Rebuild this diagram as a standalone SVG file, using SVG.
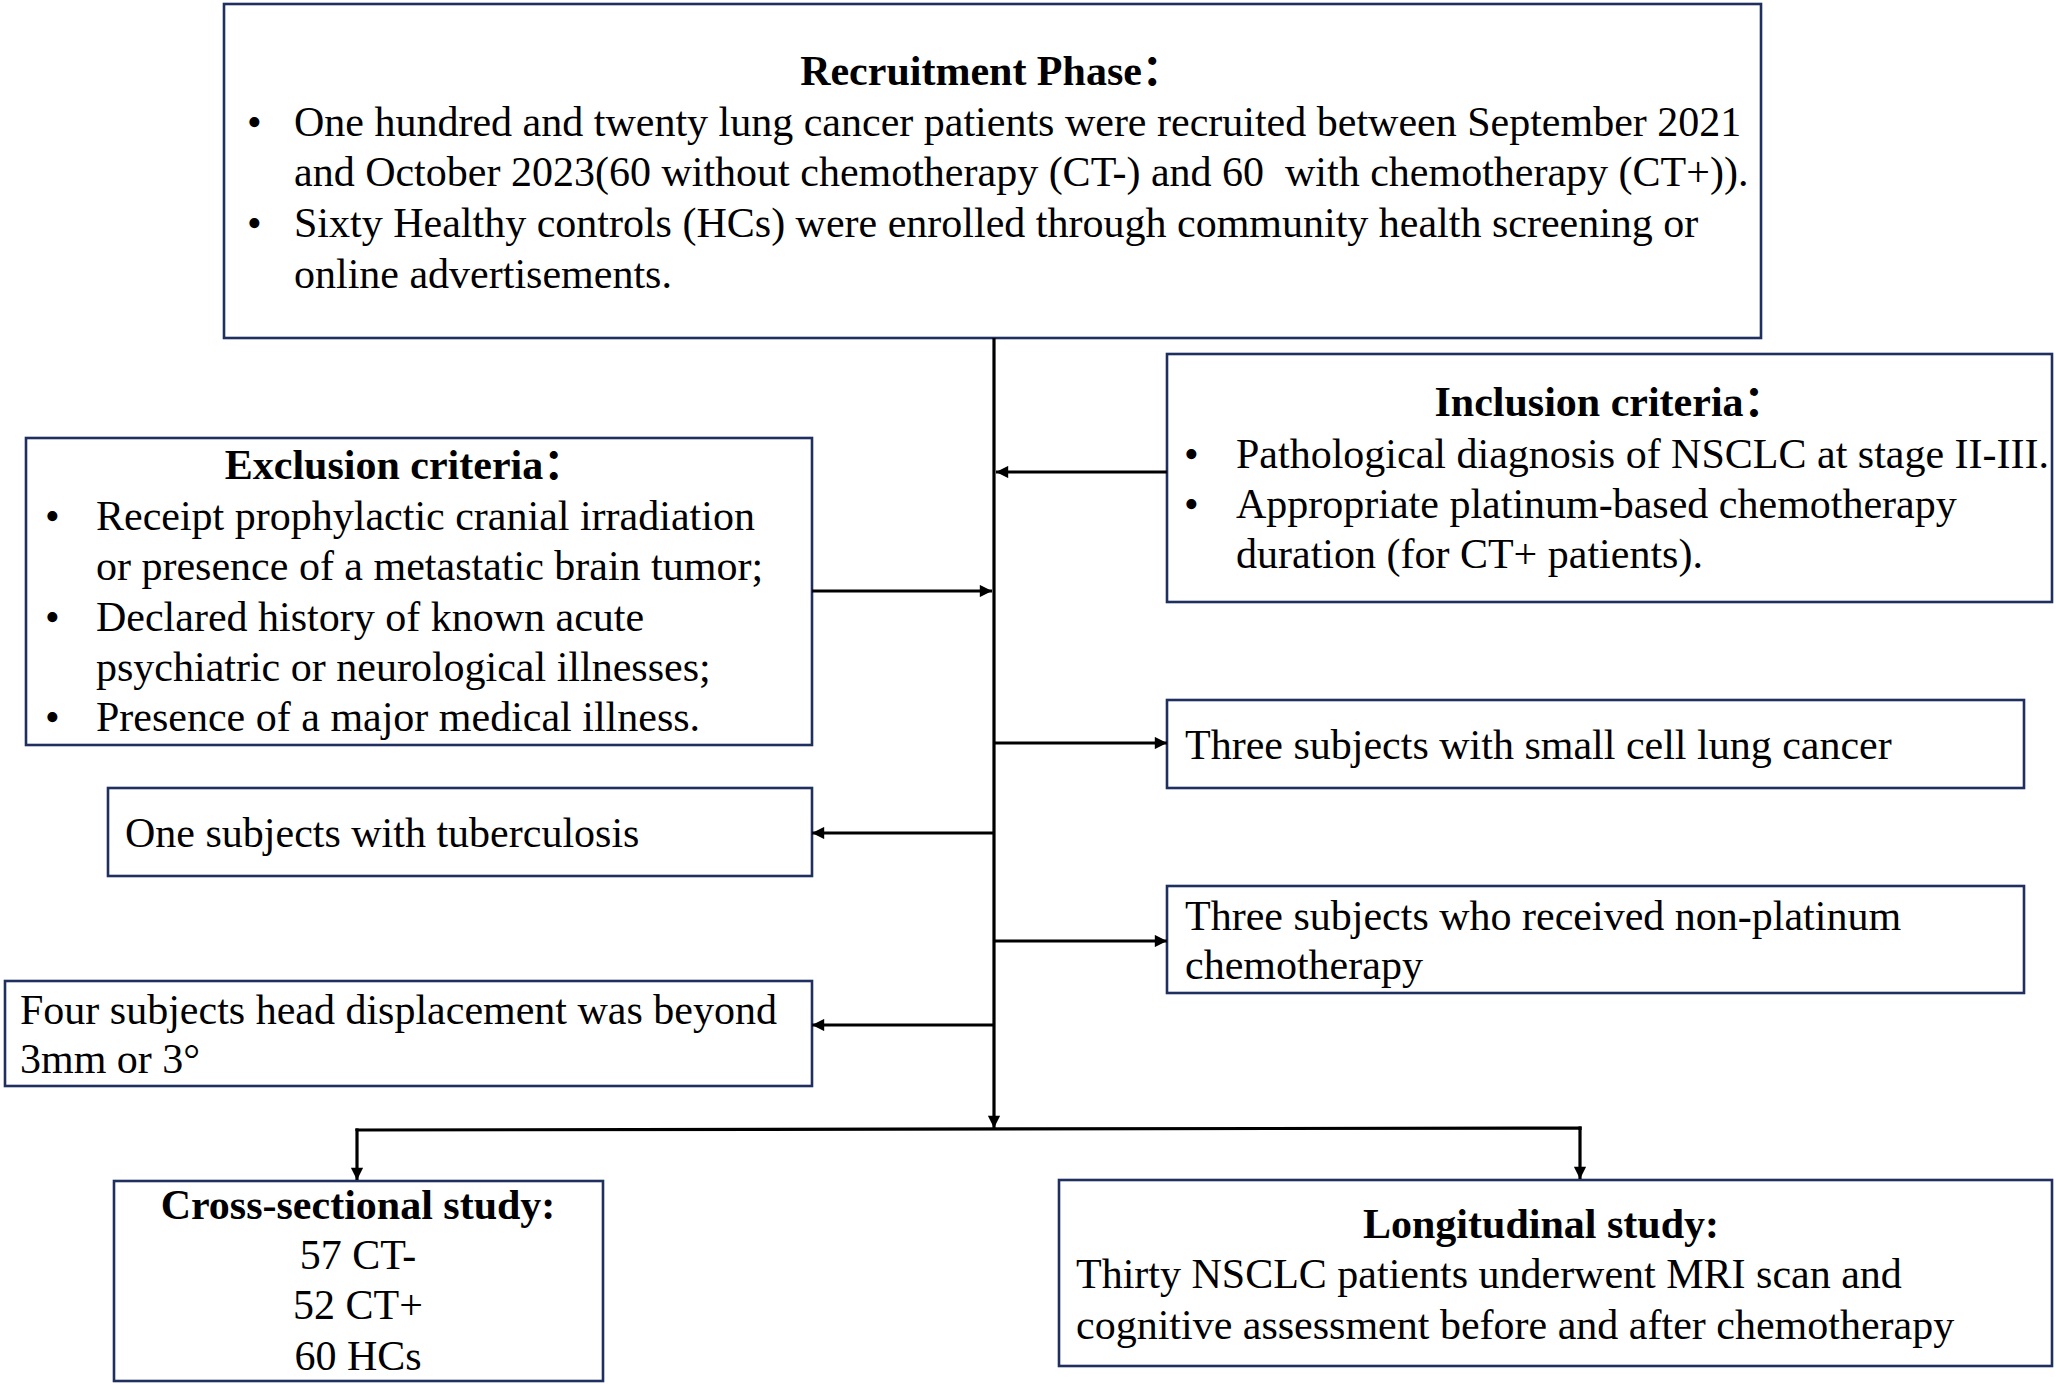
<svg xmlns="http://www.w3.org/2000/svg" width="2056" height="1384" viewBox="0 0 2056 1384">
<defs>
<style>
.box{fill:#fff;stroke:#1f2f5f;stroke-width:2.6}
text{font-family:"Liberation Serif","Noto Sans CJK SC",serif;font-size:42px;fill:#000}
.t{font-weight:bold;text-anchor:middle}
.c{text-anchor:middle}
.ln{fill:none;stroke:#000;stroke-width:3.2}
</style>
<marker id="ah" viewBox="0 0 10 10" refX="10" refY="5" markerWidth="4.4" markerHeight="3.8" markerUnits="strokeWidth" orient="auto">
<path d="M0,0 L10,5 L0,10 z" fill="#000"/>
</marker>
</defs>
<rect width="2056" height="1384" fill="#fff"/>
<g id="recruitment">
<rect class="box" x="224" y="4" width="1537" height="334"/>
<text class="t" x="992" y="85">Recruitment Phase：</text>
<text x="247" y="136">•</text>
<text x="294" y="136">One hundred and twenty lung cancer patients were recruited between September 2021</text>
<text x="294" y="186" xml:space="preserve">and October 2023(60 without chemotherapy (CT-) and 60  with chemotherapy (CT+)).</text>
<text x="247" y="237">•</text>
<text x="294" y="237">Sixty Healthy controls (HCs) were enrolled through community health screening or</text>
<text x="294" y="288">online advertisements.</text>
</g>
<g id="inclusion">
<rect class="box" x="1167" y="354" width="885" height="248"/>
<text class="t" x="1610" y="416">Inclusion criteria：</text>
<text x="1184" y="468">•</text>
<text x="1236" y="468">Pathological diagnosis of NSCLC at stage II-III.</text>
<text x="1184" y="518">•</text>
<text x="1236" y="518">Appropriate platinum-based chemotherapy</text>
<text x="1236" y="568">duration (for CT+ patients).</text>
</g>
<g id="exclusion">
<rect class="box" x="26" y="438" width="786" height="307"/>
<text class="t" x="405" y="479">Exclusion criteria：</text>
<text x="45" y="530">•</text>
<text x="96" y="530">Receipt prophylactic cranial irradiation</text>
<text x="96" y="580">or presence of a metastatic brain tumor;</text>
<text x="45" y="631">•</text>
<text x="96" y="631">Declared history of known acute</text>
<text x="96" y="681">psychiatric or neurological illnesses;</text>
<text x="45" y="731">•</text>
<text x="96" y="731">Presence of a major medical illness.</text>
</g>
<g id="small-cell">
<rect class="box" x="1167" y="700" width="857" height="88"/>
<text x="1185" y="759">Three subjects with small cell lung cancer</text>
</g>
<g id="tuberculosis">
<rect class="box" x="108" y="788" width="704" height="88"/>
<text x="125" y="847">One subjects with tuberculosis</text>
</g>
<g id="non-platinum">
<rect class="box" x="1167" y="886" width="857" height="107"/>
<text x="1185" y="930">Three subjects who received non-platinum</text>
<text x="1185" y="979">chemotherapy</text>
</g>
<g id="head-displacement">
<rect class="box" x="5" y="981" width="807" height="105"/>
<text x="20" y="1024">Four subjects head displacement was beyond</text>
<text x="20" y="1073">3mm or 3°</text>
</g>
<g id="cross-sectional">
<rect class="box" x="114" y="1181" width="489" height="200"/>
<text class="t" x="358" y="1219">Cross-sectional study:</text>
<text class="c" x="358" y="1269">57 CT-</text>
<text class="c" x="358" y="1319">52 CT+</text>
<text class="c" x="358" y="1370">60 HCs</text>
</g>
<g id="longitudinal">
<rect class="box" x="1059" y="1180" width="993" height="186"/>
<text class="t" x="1541" y="1238">Longitudinal study:</text>
<text x="1076" y="1288">Thirty NSCLC patients underwent MRI scan and</text>
<text x="1076" y="1339">cognitive assessment before and after chemotherapy</text>
</g>
<g id="connectors">
<line class="ln" x1="994" y1="338" x2="994" y2="1128" marker-end="url(#ah)"/>
<line class="ln" x1="1167" y1="472" x2="996" y2="472" marker-end="url(#ah)"/>
<line class="ln" x1="812" y1="591" x2="992" y2="591" marker-end="url(#ah)"/>
<line class="ln" x1="994" y1="743" x2="1167" y2="743" marker-end="url(#ah)"/>
<line class="ln" x1="994" y1="833" x2="812" y2="833" marker-end="url(#ah)"/>
<line class="ln" x1="994" y1="941" x2="1167" y2="941" marker-end="url(#ah)"/>
<line class="ln" x1="994" y1="1025" x2="812" y2="1025" marker-end="url(#ah)"/>
<polyline class="ln" points="357,1131 357,1130 1580,1128 1580,1130"/>
<line class="ln" x1="357" y1="1128.4" x2="357" y2="1180" marker-end="url(#ah)"/>
<line class="ln" x1="1580" y1="1126.4" x2="1580" y2="1179" marker-end="url(#ah)"/>
</g>
</svg>
